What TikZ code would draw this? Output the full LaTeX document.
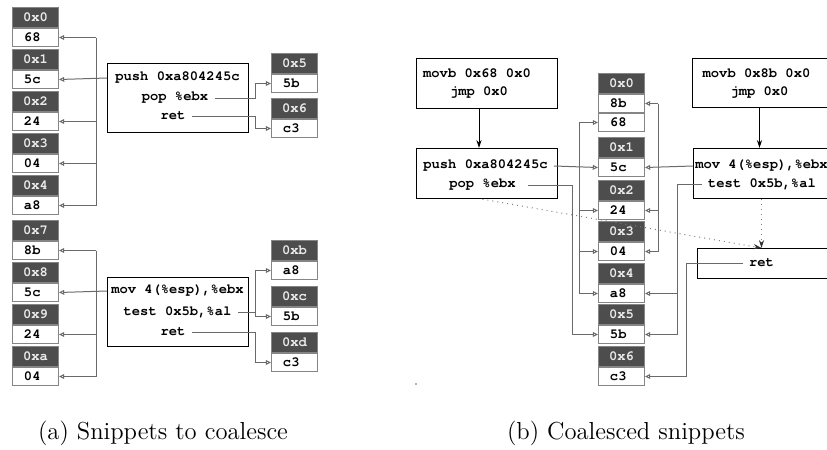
\documentclass[tikz,border=0pt]{standalone}
\usepackage{fontspec}
\setmonofont{TeX Gyre Cursor}
\usetikzlibrary{arrows.meta,calc}
\definecolor{hdrfill}{HTML}{4D4D4D}
\definecolor{cellborder}{HTML}{858585}
\definecolor{linegray}{HTML}{6A6A6A}
\newcommand\insfont{\ttfamily\bfseries\fontsize{6.9}{8}\selectfont}
\newcommand\hdrfont{\ttfamily\bfseries\fontsize{6.9}{8}\selectfont}
\newcommand\capfont{\fontsize{12.3}{15}\selectfont}
\newcommand\memcell[5]{%
  \node[hdr] (#1h) at (#2,#3) {#4};
  \node[val, anchor=north] (#1) at (#1h.south) {#5};}
\begin{document}
\begin{tikzpicture}[x=0.5pt,y=-0.5pt,
  hdr/.style={draw=cellborder, line width=0.5pt, fill=hdrfill, text=white!92!black, minimum width=23pt,
    minimum height=10pt, inner sep=0pt, font=\hdrfont, anchor=north west},
  val/.style={draw=cellborder, line width=0.5pt, fill=white, minimum height=9pt, text width=11.5pt,
    inner xsep=5.75pt, inner ysep=0pt, align=left, font=\insfont},
  ibox/.style={draw=black, line width=0.6pt, minimum width=70.5pt, inner sep=0pt, anchor=north west},
  ins/.style={font=\insfont, inner xsep=3pt, inner ysep=0pt},
  conn/.style={draw=linegray, line width=0.5pt},
  arr/.style={conn, -{Triangle[open, length=2.6pt, width=2.4pt]}},
  flow/.style={draw=black, line width=0.5pt, -{Stealth[length=4pt, width=2.6pt]}},
  dotarr/.style={draw=gray, dotted, line width=0.5pt, -{Stealth[length=4pt, width=2.6pt, color=black!80]}},
  captext/.style={font=\capfont, inner sep=0pt}]
\useasboundingbox (0,0) rectangle (827,450);
\clip (0,0) rectangle (827,450);

% ---------------- (a) ----------------
\memcell{a0}{12}{7}{0x0}{68}
\memcell{a1}{12}{49}{0x1}{5c}
\memcell{a2}{12}{91}{0x2}{24}
\memcell{a3}{12}{133}{0x3}{04}
\memcell{a4}{12}{175}{0x4}{a8}
\memcell{a7}{12}{220}{0x7}{8b}
\memcell{a8}{12}{262}{0x8}{5c}
\memcell{a9}{12}{304}{0x9}{24}
\memcell{aa}{12}{346}{0xa}{04}
\memcell{a5}{271}{53}{0x5}{5b}
\memcell{a6}{271}{98}{0x6}{c3}
\memcell{ab}{271}{240}{0xb}{a8}
\memcell{ac}{271}{286}{0xc}{5b}
\memcell{ad}{271}{332}{0xd}{c3}

\node[ibox, minimum height=34.5pt] (boxA) at (107,63) {};
\node[ins] (pushA) at (177.5,78) {push 0xa804245c};
\node[ins] (popA) at (175,98) {pop \%ebx};
\node[ins] (retA) at (173,116) {ret};

\node[ibox, minimum height=34.5pt] (boxB) at (107,277) {};
\node[ins] (movB) at (177.5,291) {mov 4(\%esp),\%ebx};
\node[ins] (testB) at (177.5,312) {test 0x5b,\%al};
\node[ins] (retB) at (173,332) {ret};

\coordinate (busA) at (96,0);
\coordinate (jA) at (255,0);

\draw[conn] (busA |- a0) -- (busA |- a4);
\foreach \c in {a0,a2,a3,a4} \draw[arr] (busA |- \c) -- (\c.east);
\draw[arr] (pushA -| boxA.west) -- (a1.east);
\draw[arr] (popA.east) -- (popA.east -| jA) -- (jA |- a5) -- (a5.west);
\draw[arr] (retA.east) -- (retA.east -| jA) -- (jA |- a6) -- (a6.west);

\draw[conn] (busA |- a7) -- (busA |- aa);
\foreach \c in {a7,a9,aa} \draw[arr] (busA |- \c) -- (\c.east);
\draw[arr] (movB -| boxB.west) -- (a8.east);
\draw[conn] (testB.east) -- (testB.east -| jA);
\draw[conn] (jA |- ab) -- (jA |- ac);
\draw[arr] (jA |- ab) -- (ab.west);
\draw[arr] (jA |- ac) -- (ac.west);
\draw[arr] (retB.east) -- (retB.east -| jA) -- (jA |- ad) -- (ad.west);

% ---------------- (b) ----------------
\node[ibox, minimum height=25pt] (bL1) at (416,58) {};
\node[ins] (movbL) at (477,73) {movb 0x68 0x0};
\node[ins] (jmpL) at (479,92) {jmp 0x0};
\node[ibox, minimum height=25pt] (bL2) at (416,148) {};
\node[ins] (pushL) at (485.5,166) {push 0xa804245c};
\node[ins] (popL) at (482.5,185) {pop \%ebx};
\draw[flow] (jmpL |- bL1.south) -- (jmpL |- bL2.north);

\node[ibox, minimum height=24.5pt] (bR1) at (692,58) {};
\node[ins] (movbR) at (756.5,73) {movb 0x8b 0x0};
\node[ins] (jmpR) at (759.5,92) {jmp 0x0};
\node[ibox, minimum height=25pt] (bR2) at (693,148) {};
\node[ins] (movR) at (761.5,166) {mov 4(\%esp),\%ebx};
\node[ins] (testR) at (762,184) {test 0x5b,\%al};
\draw[flow] (jmpR |- bR1.south) -- (jmpR |- bR2.north);
\node[ibox, minimum height=15pt] (bR3) at (697,248) {};
\node[ins] (retR) at (761.5,263) {ret};

\memcell{b0}{598}{73}{0x0}{8b}
\node[val, anchor=north] (b0b) at (b0.south) {68};
\memcell{b1}{598}{137}{0x1}{5c}
\memcell{b2}{598}{180}{0x2}{24}
\memcell{b3}{598}{221}{0x3}{04}
\memcell{b4}{598}{263}{0x4}{a8}
\memcell{b5}{598}{304}{0x5}{5b}
\memcell{b6}{598}{346}{0x6}{c3}

\coordinate (bus1) at (579,0);
\coordinate (bus2) at (572,0);
\coordinate (bus3) at (658,0);
\coordinate (bus4) at (677,0);
\coordinate (bus5) at (686,0);

\draw[conn] (bus1 |- b0b) -- (bus1 |- b4);
\foreach \c in {b0b,b2,b3,b4} \draw[arr] (bus1 |- \c) -- (\c.west);
\draw[arr] (pushL.east) -- (b1.west);
\draw[arr, shorten <=3pt] (popL.east) -- (popL.east -| bus2) -- (bus2 |- b5) -- (b5.west);

\draw[conn] (bus3 |- b0) -- (bus3 |- b3);
\foreach \c in {b0,b2,b3} \draw[arr] (bus3 |- \c) -- (\c.east);
\draw[arr] (movR -| bR2.west) -- (b1.east);
\draw[conn] (testR.west) -- (testR.west -| bus4) -- (bus4 |- b5);
\draw[arr] (bus4 |- b4) -- (b4.east);
\draw[arr] (bus4 |- b5) -- (b5.east);
\draw[arr] (retR.west) -- (retR.west -| bus5) -- (bus5 |- b6) -- (b6.east);

\draw[dotarr] (popL |- bL2.south) -- (retR |- bR3.north);
\draw[dotarr] (retR |- bR2.south) -- (retR |- bR3.north);

\fill[gray!60] (415,383) rectangle (417,385);

% captions
\node[captext] (capA) at (163,433) {(a) Snippets to coalesce};
\node[captext] (capB) at (626,433) {(b) Coalesced snippets};
\end{tikzpicture}
\end{document}
